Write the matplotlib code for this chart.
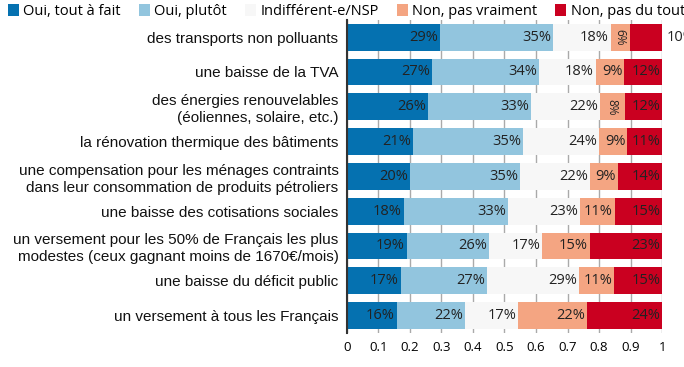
import numpy as np
import matplotlib.pyplot as plt
from matplotlib.patches import Patch

categories = [
    "des transports non polluants",
    "une baisse de la TVA",
    "des énergies renouvelables\n(éoliennes, solaire, etc.)",
    "la rénovation thermique des bâtiments",
    "une compensation pour les ménages contraints\ndans leur consommation de produits pétroliers",
    "une baisse des cotisations sociales",
    "un versement pour les 50% de Français les plus\nmodestes (ceux gagnant moins de 1670€/mois)",
    "une baisse du déficit public",
    "un versement à tous les Français",
]
answers = ["Oui, tout à fait", "Oui, plutôt", "Indifférent-e/NSP",
           "Non, pas vraiment", "Non, pas du tout"]
oui_tout = [29, 27, 26, 21, 20, 18, 19, 17, 16]
oui_plutot = [35, 34, 33, 35, 35, 33, 26, 27, 22]
indiff = [18, 18, 22, 24, 22, 23, 17, 29, 17]
non_vraiment = [6, 9, 8, 9, 9, 11, 15, 11, 22]
non_tout = [10, 12, 12, 11, 14, 15, 23, 15, 24]
colors = ["#0571b0", "#92c5de", "#f7f7f7", "#f4a582", "#ca0020"]

vals = np.array([oui_tout, oui_plutot, indiff, non_vraiment, non_tout], dtype=float)
shares = vals / vals.sum(axis=0)

fig = plt.figure(figsize=(6.84, 3.67), dpi=100)
ax = fig.add_axes([0.507, 0.093, 0.461, 0.853])

y = np.arange(len(categories))
left = np.zeros(len(categories))
for k in range(5):
    ax.barh(y, shares[k], left=left, height=0.77, color=colors[k], zorder=2)
    for i in range(len(categories)):
        v = int(vals[k, i])
        end = left[i] + shares[k, i]
        txt = f"{v}%"
        if k == 4 and v == 10:
            # doesn't fit, goes outside the bar
            ax.text(1.015, y[i], txt, ha="left", va="center", fontsize=10.5,
                    family="Open Sans", color="#222222", zorder=3, clip_on=False)
        elif v < 9:
            ax.text(left[i] + shares[k, i] / 2, y[i], txt, ha="center", va="center",
                    fontsize=8.5, family="Open Sans", rotation=270, color="#222222", zorder=3)
        else:
            ax.text(end - 0.006, y[i], txt, ha="right", va="center", fontsize=10.5,
                    family="Open Sans", color="#222222", zorder=3)
    left = left + shares[k]

ax.set_xlim(0, 1)
ax.set_ylim(len(categories) - 0.5, -0.5)
ax.set_yticks(y)
ax.set_yticklabels(categories, family="Liberation Sans", fontsize=11, color="#111111",
                   linespacing=1.25)
xt = np.round(np.arange(0, 1.01, 0.1), 1)
ax.set_xticks(xt)
ax.set_xticklabels(["0"] + [f"{t:g}" for t in xt[1:]], family="Open Sans", fontsize=9.5)
ax.grid(axis="x", color="#aaaaaa", linewidth=1, zorder=0)
ax.tick_params(axis="y", length=0, pad=6)
ax.tick_params(axis="x", length=0, pad=6)
for s in ["top", "right", "bottom"]:
    ax.spines[s].set_visible(False)
ax.spines["left"].set_color("#333333")
ax.spines["left"].set_linewidth(1.5)

handles = [Patch(facecolor=c, edgecolor="none") for c in colors]
fig.legend(handles, answers, loc="upper left", bbox_to_anchor=(-0.008, 1.025), ncol=5,
           frameon=False, prop={"family": "Open Sans", "size": 10.5},
           handlelength=0.75, handleheight=0.9, handletextpad=0.3, columnspacing=1.25)

fig.savefig("out.png", dpi=100)
